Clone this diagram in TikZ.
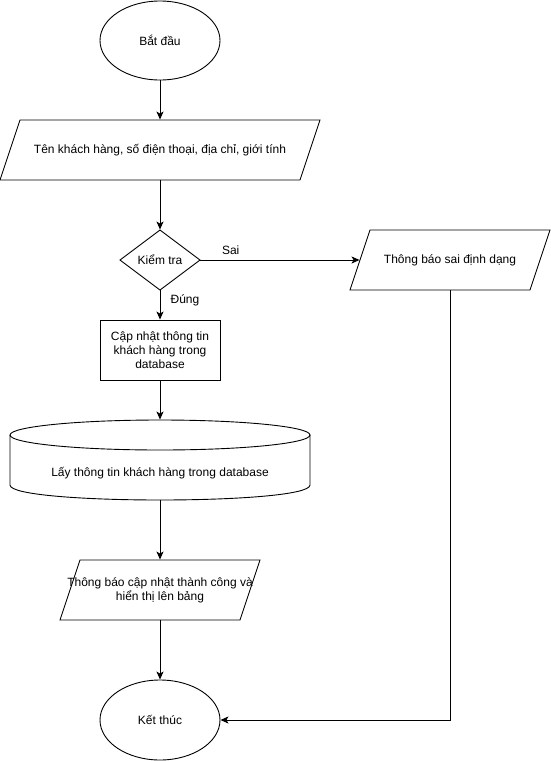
\documentclass[tikz,border=0pt]{standalone}
\usepackage{fontspec}
\setmainfont{Liberation Sans}
\usetikzlibrary{arrows.meta,shapes.geometric,calc}
\begin{document}
\begin{tikzpicture}[x=1pt,y=-1pt, line width=0.9pt,
  lbl/.style={font=\fontsize{12}{14}\selectfont, inner sep=0pt, align=center},
  flow/.style={draw, -{Stealth[length=8pt,width=7pt,inset=2pt]}}]
\useasboundingbox (0,0) rectangle (551,761);
% start
\node[draw, ellipse, minimum width=120pt, minimum height=79pt, inner sep=0pt, lbl] (start) at (160,40.5) {Bắt đầu};
% input parallelogram
\draw (20,120) -- (320,120) -- (300,180) -- (0,180) -- cycle;
\node[lbl, minimum width=280pt, minimum height=60pt] (inp) at (160,150) {Tên khách hàng, số điện thoại, địa chỉ, giới tính};
% decision
\draw (160,230) -- (200,260) -- (160,290) -- (120,260) -- cycle;
\node[lbl, minimum width=80pt, minimum height=60pt] (chk) at (160,260) {Kiểm tra};
% error parallelogram
\draw (370,230) -- (550,230) -- (530,290) -- (350,290) -- cycle;
\node[lbl, minimum width=180pt, minimum height=60pt] (err) at (450,260) {Thông báo sai định dạng};
% update rect
\node[draw, lbl, minimum width=120pt, minimum height=60pt] (upd) at (160,350) {Cập nhật thông tin\\khách hàng trong\\database};
% database cylinder
\node[minimum width=300pt, minimum height=80pt, inner sep=0pt] (db) at (160,460) {};
\draw (160,435) ellipse [x radius=150, y radius=15];
\draw (10,435) -- (10,485) .. controls (10,505) and (310,505) .. (310,485) -- (310,435);
\node[lbl] (dbt) at ([yshift=-13pt]db.center) {Lấy thông tin khách hàng trong database};
% success parallelogram
\draw (80,560) -- (260,560) -- (240,620) -- (60,620) -- cycle;
\node[lbl, minimum width=180pt, minimum height=60pt] (ok) at (160,590) {Thông báo cập nhật thành công và\\hiển thị lên bảng};
% end
\node[draw, ellipse, minimum width=120pt, minimum height=80pt, inner sep=0pt, lbl] (end) at (160,720) {Kết thúc};
% connectors
\draw[flow] (start.south) -- (inp.north);
\draw[flow] (inp.south) -- (chk.north);
\draw[flow] (chk.east) -- node[lbl, pos=0.19, yshift=10pt] {Sai} (err.west);
\draw[flow] (chk.south) -- node[lbl, pos=0.33, xshift=25pt] {Đúng} (upd.north);
\draw[flow] (upd.south) -- (db.north);
\draw[flow] (db.south) -- (ok.north);
\draw[flow] (ok.south) -- (end.north);
\draw[flow] (err.south) |- (end.east);
\end{tikzpicture}
\end{document}
